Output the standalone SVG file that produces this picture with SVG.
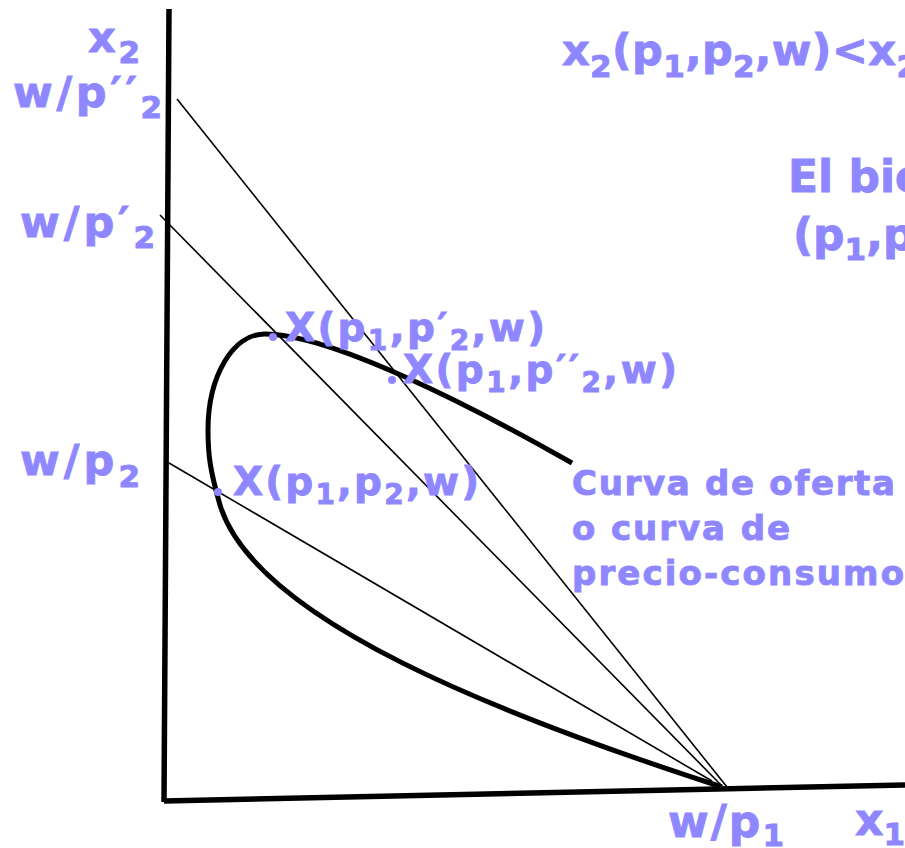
<svg xmlns="http://www.w3.org/2000/svg" width="905" height="848" viewBox="0 0 905 848">
<style>
text{font-family:"DejaVu Sans","Verdana",sans-serif;font-weight:bold;fill:#8F87FF;stroke:#8F87FF;stroke-width:0.9}
.l42{font-size:43px}
.l38{font-size:39px}
.l32{font-size:34px}
.l44{font-size:44px}
.s30{font-size:31px}
.s27{font-size:28px}
.s31{font-size:31px}
.axis{stroke:#000;stroke-width:5.5;fill:none}
.bl{stroke:#000;stroke-width:1.6;fill:none}
.curve{stroke:#000;stroke-width:5;fill:none;stroke-linejoin:round}
.dot{fill:#8F87FF}
</style>
<rect width="905" height="848" fill="#fff"/>
<g id="connectors">
  <line class="axis" x1="169" y1="9" x2="164" y2="802"/>
  <line class="axis" x1="164" y1="801" x2="905" y2="785"/>
  <line class="bl" x1="177" y1="99" x2="727" y2="787"/>
  <line class="bl" x1="160" y1="215" x2="722" y2="786"/>
  <line class="bl" x1="169" y1="463" x2="712" y2="781"/>
  <path class="curve" d="M572,463 C470,405 330,334 265,334 C233,334 208,376 208,430 C208,455 210,470 220,505 C255,620 500,715 722,787"/>
</g>
<g id="axis-labels">
  <text class="l42" x="88" y="52" textLength="52" lengthAdjust="spacing">x<tspan class="s30" dy="11">2</tspan></text>
  <text class="l42" x="13" y="107" textLength="149" lengthAdjust="spacing">w/p′′<tspan class="s30" dy="11">2</tspan></text>
  <text class="l42" x="20" y="237" textLength="135" lengthAdjust="spacing">w/p′<tspan class="s30" dy="11">2</tspan></text>
  <text class="l42" x="20" y="475" textLength="120" lengthAdjust="spacing">w/p<tspan class="s30" dy="12">2</tspan></text>
  <text class="l44" x="668" y="837" textLength="116" lengthAdjust="spacing">w/p<tspan class="s31" dy="9">1</tspan></text>
  <text class="l44" x="855" y="835">x<tspan class="s31" dy="10">1</tspan></text>
</g>
<g id="point-p2">
  <circle class="dot" cx="218" cy="492" r="4"/>
  <text class="l38" x="233" y="495" textLength="246" lengthAdjust="spacing">X(p<tspan class="s27" dy="9">1</tspan><tspan dy="-9">,p</tspan><tspan class="s27" dy="9">2</tspan><tspan dy="-9">,w)</tspan></text>
</g>
<g id="point-p2prime">
  <circle class="dot" cx="273" cy="337" r="4"/>
  <text class="l38" x="285" y="341" textLength="260" lengthAdjust="spacing">X(p<tspan class="s27" dy="9">1</tspan><tspan dy="-9">,p′</tspan><tspan class="s27" dy="9">2</tspan><tspan dy="-9">,w)</tspan></text>
</g>
<g id="point-p2doubleprime">
  <circle class="dot" cx="392" cy="380" r="4"/>
  <text class="l38" x="403" y="383" textLength="274" lengthAdjust="spacing">X(p<tspan class="s27" dy="9">1</tspan><tspan dy="-9">,p′′</tspan><tspan class="s27" dy="9">2</tspan><tspan dy="-9">,w)</tspan></text>
</g>
<g id="curve-label">
  <text class="l32" x="572" y="495" textLength="323" lengthAdjust="spacing">Curva de oferta</text>
  <text class="l32" x="572" y="540" textLength="218" lengthAdjust="spacing">o curva de</text>
  <text class="l32" x="572" y="585" textLength="332" lengthAdjust="spacing">precio-consumo</text>
</g>
<g id="top-formula">
  <text class="l42" x="562" y="65" textLength="356" lengthAdjust="spacing">x<tspan class="s30" dy="12">2</tspan><tspan dy="-12">(p</tspan><tspan class="s30" dy="12">1</tspan><tspan dy="-12">,p</tspan><tspan class="s30" dy="12">2</tspan><tspan dy="-12">,w)&lt;x</tspan><tspan class="s30" dy="12">2</tspan></text>
</g>
<g id="title-note">
  <text class="l44" x="788" y="192">El bie</text>
  <text class="l44" x="793" y="250">(p<tspan class="s31" dy="10">1</tspan><tspan dy="-10">,p</tspan></text>
</g>
</svg>
